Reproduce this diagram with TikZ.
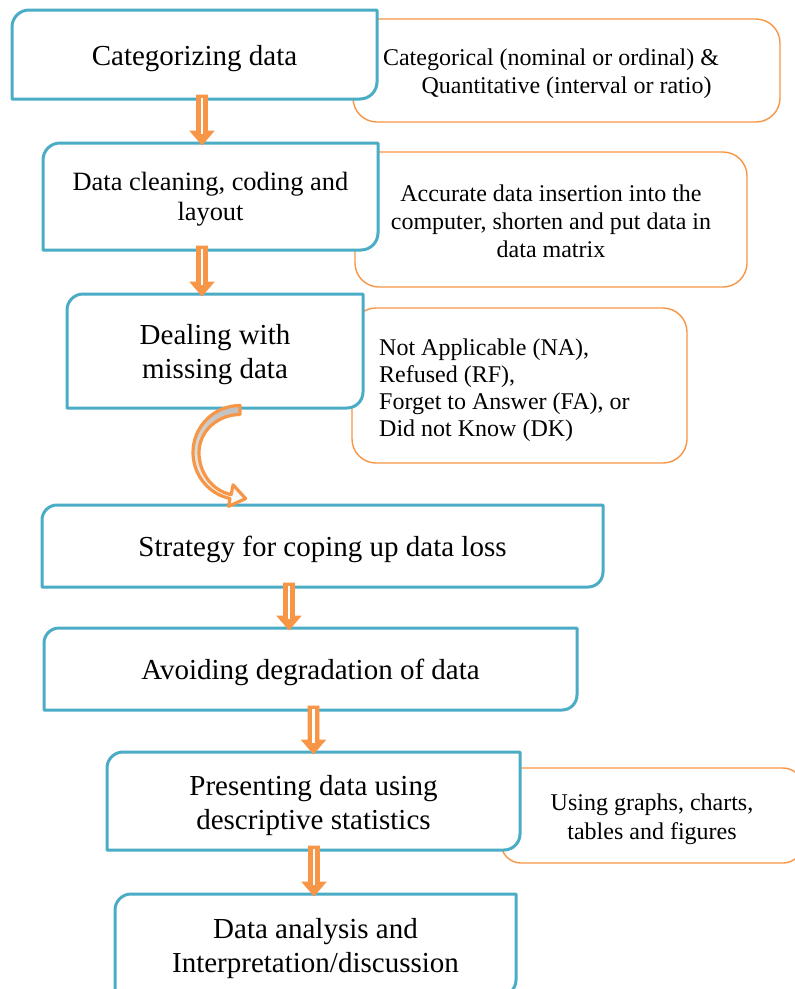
\documentclass[tikz,border=0pt]{standalone}
\usepackage{fontspec}
\setmainfont{Liberation Serif}
\usetikzlibrary{calc}

\definecolor{flowblue}{RGB}{75,172,198}
\definecolor{floworange}{RGB}{247,150,70}

\tikzset{
  stepframe/.style={anchor=north west, inner sep=0pt, outer sep=0pt, fill=white},
  steptext/.style={inner sep=0pt, align=center, font=\fontsize{29}{34}\selectfont},
  noteframe/.style={anchor=north west, inner sep=0pt, outer sep=0pt, draw=floworange,
    line width=1.4pt, fill=white, rounded corners=24pt},
  notetext/.style={inner sep=0pt, align=center, font=\fontsize{24}{28.5}\selectfont},
  blueline/.style={draw=flowblue, line width=3pt, line join=round},
  arrowbody/.style={fill=floworange, draw=floworange, line width=0.6pt, line join=miter},
  arrowslit/.style={draw=white, line width=2.6pt},
  bentarrow/.style={draw=floworange, line width=3.2pt, line join=round,
    top color=black!25, bottom color=white},
}

% outline with the top-left and bottom-right corners rounded
\newcommand\diagframe[2]{%
  \draw[blueline] (#1.south west) -- ([yshift=-#2]#1.north west)
    .. controls ([yshift=-0.45*#2]#1.north west) and ([xshift=0.45*#2]#1.north west)
    .. ([xshift=#2]#1.north west)
    -- (#1.north east) -- ([yshift=#2]#1.south east)
    .. controls ([yshift=0.45*#2]#1.south east) and ([xshift=-0.45*#2]#1.south east)
    .. ([xshift=-#2]#1.south east) -- cycle;}

% double-line block arrow at horizontal position #1 from node #2 down to node #3
\newcommand\flowarrow[3]{%
  \path[arrowbody] let \p1=([yshift=4pt]#2.south), \p2=([yshift=-2pt]#3.north) in
    ({#1pt-5.5pt},\y1) -- ({#1pt-5.5pt},{\y2+14pt}) -- ({#1pt-12pt},{\y2+14pt})
    -- ({#1pt},\y2) -- ({#1pt+12pt},{\y2+14pt}) -- ({#1pt+5.5pt},{\y2+14pt})
    -- ({#1pt+5.5pt},\y1) -- cycle;
  \path[arrowslit] let \p1=([yshift=4pt]#2.south), \p2=([yshift=-2pt]#3.north) in
    ({#1pt},{\y1-2.5pt}) -- ({#1pt},{\y2+11pt});}

\begin{document}
\begin{tikzpicture}[x=1pt, y=-1pt]
\useasboundingbox (0,0) rectangle (795,989);
\fill[white] (0,0) rectangle (795,989);
\clip (0,0) rectangle (795,989);

% side notes
\node[noteframe, minimum width=427pt, minimum height=103pt] (n1) at (353,19) {};
\node[notetext] (m1) at ([yshift=-3pt]n1.center)
  {Categorical (nominal or ordinal) \&\hspace*{31pt}\\Quantitative (interval or ratio)};
\node[noteframe, minimum width=392pt, minimum height=135pt] (n2) at (355,152) {};
\node[notetext, font=\fontsize{24}{28}\selectfont] (m2) at ([yshift=-1.5pt]n2.center)
  {Accurate data insertion into the\\computer, shorten and put data in\\data matrix};
\node[noteframe, minimum width=335pt, minimum height=155pt] (n3) at (352,308) {};
\node[notetext, align=left, anchor=west, font=\fontsize{24}{27}\selectfont] (m3)
  at ([xshift=27pt,yshift=-5pt]n3.west)
  {Not Applicable (NA),\\Refused (RF),\\Forget to Answer (FA), or\\Did not Know (DK)};
\node[noteframe, rounded corners=20pt, minimum width=302pt, minimum height=95pt] (n6) at (501,768) {};
\node[notetext] (m6) at ([yshift=-4pt]n6.center) {Using graphs, charts,\\tables and figures};

% process steps
\node[stepframe, minimum width=365pt, minimum height=89pt] (s1) at (12,10) {};
\diagframe{s1}{17pt}
\node[steptext] (t1) at ([yshift=-4pt]s1.center) {Categorizing data};
\node[stepframe, minimum width=335pt, minimum height=107pt] (s2) at (43,143) {};
\diagframe{s2}{17pt}
\node[steptext, font=\fontsize{26.4}{30}\selectfont] (t2) at ([yshift=-3pt]s2.center)
  {Data cleaning, coding and\\layout};
\node[stepframe, minimum width=296pt, minimum height=114pt] (s3) at (67,294) {};
\diagframe{s3}{16pt}
\node[steptext] (t3) at ([yshift=-4pt]s3.center) {Dealing with\\missing data};
\node[stepframe, minimum width=561pt, minimum height=82pt] (s4) at (42,505) {};
\diagframe{s4}{15pt}
\node[steptext] (t4) at ([yshift=-3pt]s4.center) {Strategy for coping up data loss};
\node[stepframe, minimum width=533pt, minimum height=82pt] (s5) at (44,628) {};
\diagframe{s5}{15pt}
\node[steptext] (t5) at ([yshift=-3pt]s5.center) {Avoiding degradation of data};
\node[stepframe, minimum width=413pt, minimum height=98pt] (s6) at (107,752) {};
\diagframe{s6}{16pt}
\node[steptext] (t6) at ([yshift=-5pt]s6.center) {Presenting data using\\descriptive statistics};
\node[stepframe, minimum width=401pt, minimum height=102pt] (s7) at (115,894) {};
\diagframe{s7}{16pt}
\node[steptext] (t7) at ([yshift=-4pt]s7.center) {Data analysis and\\Interpretation/discussion};

% straight connectors
\flowarrow{202}{s1}{s2}
\flowarrow{202}{s2}{s3}
\flowarrow{289}{s4}{s5}
\flowarrow{313.5}{s5}{s6}
\flowarrow{314}{s6}{s7}

% bent connector from s3 to s4
\path let \p1=($(s3.south)!0.5!(s4.north)$) in coordinate (bend) at (240pt,{\y1+4pt});
\begin{scope}[shift={(bend)}]
  \draw[bentarrow] (0,-47)
    .. controls (-26,-47) and (-47,-26) .. (-47,0)
    .. controls (-47,22) and (-31.7,41.4) .. (-10,46)
    -- (-11.4,53.8) -- (5.6,46.1) -- (-6.9,32.3) -- (-8.9,42.1)
    .. controls (-28.3,38) and (-41,19.8) .. (-41,0)
    .. controls (-41,-21.8) and (-21.8,-38) .. (0,-38) -- cycle;
\end{scope}
\end{tikzpicture}
\end{document}
